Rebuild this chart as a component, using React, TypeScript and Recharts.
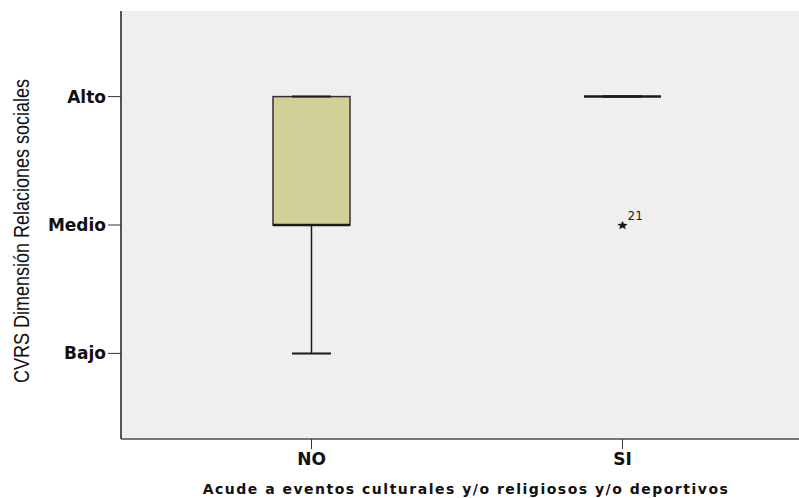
import React from "react";
import { ComposedChart, Bar, Scatter, XAxis, YAxis, CartesianGrid, Label } from "recharts";

// groups on the x axis
const groups = ["NO", "SI"];
// box plot statistics per group (1 = Bajo, 2 = Medio, 3 = Alto)
const whiskerLow = [1, 3];
const q1 = [2, 3];
const median = [2, 3];
const q3 = [3, 3];
const whiskerHigh = [3, 3];
// extreme cases
const outlierGroups = ["SI"];
const outlierValues = [2];
const outlierIds = ["21"];
// y tick labels
const levelTicks = [1, 2, 3];
const levelLabels = ["Bajo", "Medio", "Alto"];

const data = groups.map((g, i) => {
	const o = outlierGroups.indexOf(g);
	return {
		name: g,
		base: whiskerLow[i],
		lowWhisk: q1[i] - whiskerLow[i],
		box: q3[i] - q1[i],
		highWhisk: whiskerHigh[i] - q3[i],
		low: whiskerLow[i],
		high: whiskerHigh[i],
		median: median[i],
		outlier: o >= 0 ? outlierValues[o] : null,
		outlierId: o >= 0 ? outlierIds[o] : "",
	};
});

const INK = "#1a1a1a";
const BOX_WIDTH = 77;
const CAP_WIDTH = 39;

const WhiskerShape = (p: any) => {
	if (!p.height) return <g />;
	const cx = p.x + p.width / 2;
	return <line x1={cx} x2={cx} y1={p.y} y2={p.y + p.height} stroke={INK} strokeWidth={1.5} />;
};

const BoxShape = (p: any) => {
	if (!p.height) return <g />;
	return (
		<rect x={p.x} y={p.y} width={p.width} height={p.height} fill="#D3CF98" stroke="#333" strokeWidth={1.5} />
	);
};

const hLine = (w: number, sw: number) => (p: any) => {
	if (p.cx == null || p.cy == null || isNaN(p.cy)) return <g />;
	return <line x1={p.cx - w / 2} x2={p.cx + w / 2} y1={p.cy} y2={p.cy} stroke={INK} strokeWidth={sw} />;
};

const StarShape = (p: any) => {
	if (p.cx == null || p.cy == null || isNaN(p.cy) || p.payload.outlier == null) return <g />;
	const pts: string[] = [];
	for (let k = 0; k < 10; k++) {
		const r = k % 2 === 0 ? 1 : 0.45;
		const a = -Math.PI / 2 + (k * Math.PI) / 5;
		pts.push(`${p.cx + Math.cos(a) * 5.5 * r},${p.cy + 0.5 + Math.sin(a) * 4.5 * r}`);
	}
	return (
		<g>
			<polygon points={pts.join(" ")} fill={INK} />
			<text x={p.cx + 5} y={p.cy - 5} fontFamily="DejaVu Sans" fontSize={12} fill="#222">
				{p.payload.outlierId}
			</text>
		</g>
	);
};

const YTitle = () => (
	<text
		x={0}
		y={0}
		transform="translate(21, 231) scale(1.2, 1) rotate(-90)"
		textAnchor="middle"
		dominantBaseline="central"
		fontFamily="'Liberation Sans', Arial, sans-serif"
		fontSize={18}
		fill="#111"
	>
		CVRS Dimensión Relaciones sociales
	</text>
);

const tickFont = { fontFamily: "DejaVu Sans", fontWeight: "bold", fontSize: 17, fill: "#111" };

export default function App() {
	return (
		<div style={{ position: "absolute", left: 0, top: 0, background: "#fff" }}>
			<ComposedChart width={799} height={498} data={data} margin={{ top: 11, right: 0, bottom: 0, left: 0 }}>
				<CartesianGrid fill="#EFEFEF" horizontal={false} vertical={false} />
				<XAxis
					xAxisId="top"
					orientation="top"
					dataKey="name"
					height={0}
					tick={false}
					tickLine={false}
					axisLine={{ stroke: "#808080", strokeWidth: 2 }}
				/>
				<XAxis
					dataKey="name"
					height={59}
					padding={{ left: 35, right: 21 }}
					tickSize={10}
					tickMargin={4}
					tickLine={{ stroke: "#333" }}
					axisLine={{ stroke: "#777", strokeWidth: 2 }}
					tick={tickFont}
				>
					<Label
						value="Acude a eventos culturales y/o religiosos y/o deportivos"
						position="insideBottom"
						offset={4}
						dx={6}
						style={{
							fontFamily: "DejaVu Sans",
							fontWeight: "bold",
							fontSize: 14,
							letterSpacing: 1.5,
							fill: "#111",
						}}
					/>
				</XAxis>
				<YAxis
					type="number"
					width={121}
					domain={[1 / 3, 11 / 3]}
					allowDataOverflow
					ticks={levelTicks}
					tickFormatter={(v: number) => levelLabels[v - 1]}
					tickSize={13}
					tickMargin={2}
					tickLine={{ stroke: "#333" }}
					axisLine={{ stroke: "#555", strokeWidth: 2 }}
					tick={tickFont}
				>
					<Label content={<YTitle />} />
				</YAxis>
				<Bar dataKey="base" stackId="bp" fill="none" barSize={BOX_WIDTH} isAnimationActive={false} />
				<Bar dataKey="lowWhisk" stackId="bp" barSize={BOX_WIDTH} shape={WhiskerShape} isAnimationActive={false} />
				<Bar dataKey="box" stackId="bp" barSize={BOX_WIDTH} shape={BoxShape} isAnimationActive={false} />
				<Bar dataKey="highWhisk" stackId="bp" barSize={BOX_WIDTH} shape={WhiskerShape} isAnimationActive={false} />
				<Scatter dataKey="low" shape={hLine(CAP_WIDTH, 2)} isAnimationActive={false} />
				<Scatter dataKey="high" shape={hLine(CAP_WIDTH, 2)} isAnimationActive={false} />
				<Scatter dataKey="median" shape={hLine(BOX_WIDTH, 2.5)} isAnimationActive={false} />
				<Scatter dataKey="outlier" shape={StarShape} isAnimationActive={false} />
			</ComposedChart>
		</div>
	);
}
